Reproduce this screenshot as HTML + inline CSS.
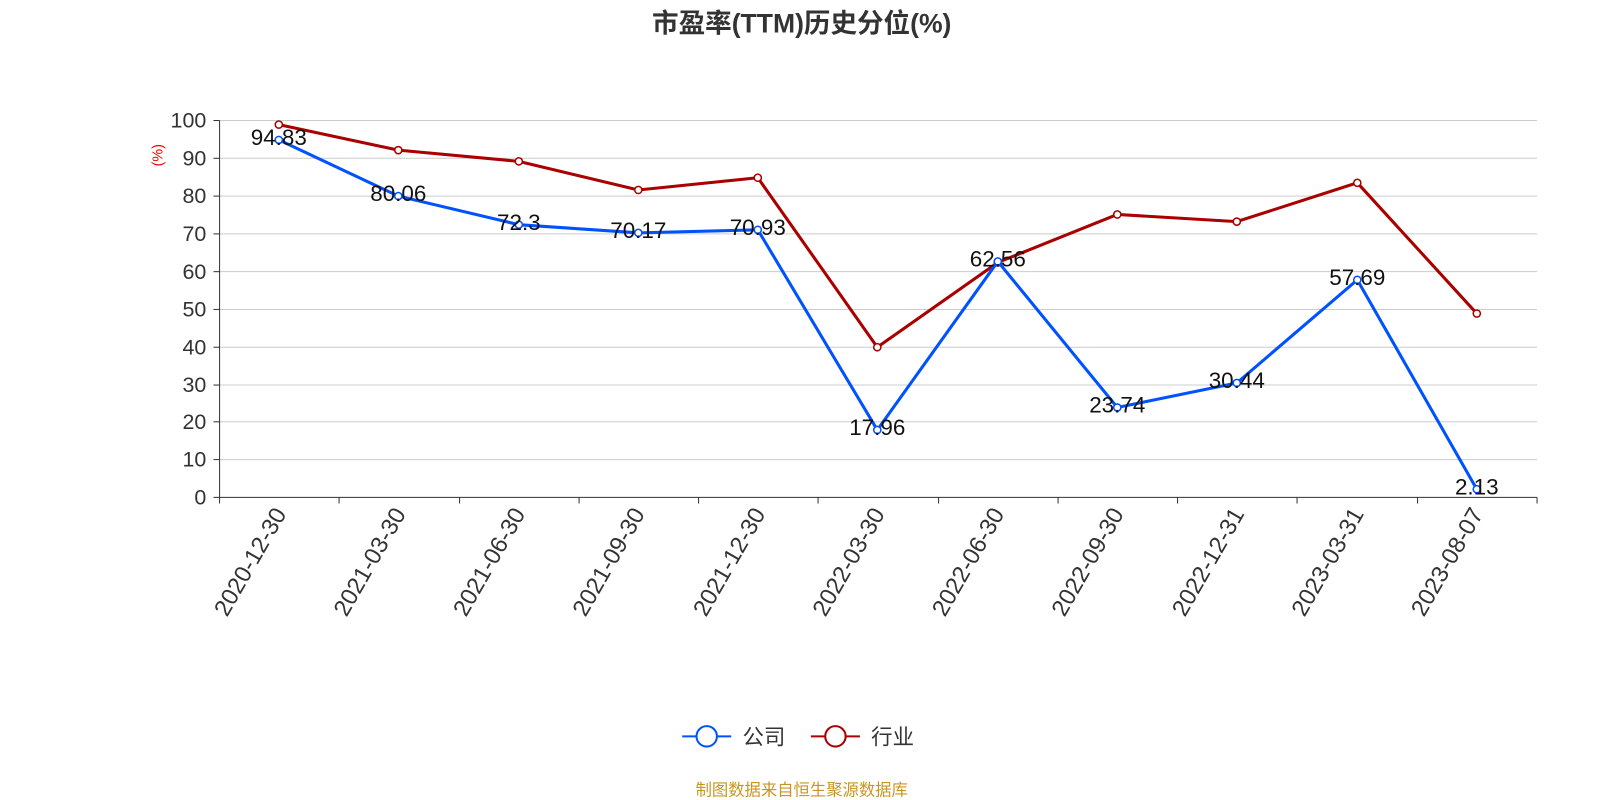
<!DOCTYPE html>
<html><head><meta charset="utf-8"><style>
html,body{margin:0;padding:0;background:#fff;overflow:hidden;width:1600px;height:800px;}
svg{display:block;}
text{font-family:"Liberation Sans","Noto Sans CJK SC",sans-serif;}
</style></head><body>
<svg width="1600" height="800" viewBox="0 0 1600 800" xmlns="http://www.w3.org/2000/svg">
<g transform="scale(1.0213)">
<text x="785" y="32" text-anchor="middle" font-size="26" font-weight="bold" fill="#333">市盈率(TTM)历史分位(%)</text>
<g stroke="#ccc" stroke-width="1">
<line x1="215" x2="1505" y1="118" y2="118"/><line x1="215" x2="1505" y1="155" y2="155"/>
<line x1="215" x2="1505" y1="192" y2="192"/><line x1="215" x2="1505" y1="229" y2="229"/>
<line x1="215" x2="1505" y1="266" y2="266"/><line x1="215" x2="1505" y1="303" y2="303"/>
<line x1="215" x2="1505" y1="340" y2="340"/><line x1="215" x2="1505" y1="377" y2="377"/>
<line x1="215" x2="1505" y1="413" y2="413"/><line x1="215" x2="1505" y1="450" y2="450"/>
</g>
<line x1="215" x2="215" y1="118" y2="487" stroke="#333"/>
<line x1="215" x2="1505" y1="487" y2="487" stroke="#333"/>
<g stroke="#333">
<line x1="209" x2="215" y1="118" y2="118"/><line x1="209" x2="215" y1="155" y2="155"/><line x1="209" x2="215" y1="192" y2="192"/><line x1="209" x2="215" y1="229" y2="229"/><line x1="209" x2="215" y1="266" y2="266"/><line x1="209" x2="215" y1="303" y2="303"/><line x1="209" x2="215" y1="340" y2="340"/><line x1="209" x2="215" y1="377" y2="377"/><line x1="209" x2="215" y1="413" y2="413"/><line x1="209" x2="215" y1="450" y2="450"/><line x1="209" x2="215" y1="487" y2="487"/>
<line x1="215" x2="215" y1="487" y2="493"/><line x1="332" x2="332" y1="487" y2="493"/><line x1="450" x2="450" y1="487" y2="493"/><line x1="567" x2="567" y1="487" y2="493"/><line x1="684" x2="684" y1="487" y2="493"/><line x1="801" x2="801" y1="487" y2="493"/><line x1="919" x2="919" y1="487" y2="493"/><line x1="1036" x2="1036" y1="487" y2="493"/><line x1="1153" x2="1153" y1="487" y2="493"/><line x1="1270" x2="1270" y1="487" y2="493"/><line x1="1388" x2="1388" y1="487" y2="493"/><line x1="1505" x2="1505" y1="487" y2="493"/>
</g>
<g font-size="21" fill="#333" text-anchor="end">
<text x="202" y="125">100</text><text x="202" y="162">90</text><text x="202" y="199">80</text><text x="202" y="236">70</text><text x="202" y="273">60</text><text x="202" y="310">50</text><text x="202" y="347">40</text><text x="202" y="384">30</text><text x="202" y="420">20</text><text x="202" y="457">10</text><text x="202" y="494">0</text>
</g>
<text transform="translate(159,152) rotate(-90)" font-size="14" fill="#e00" text-anchor="middle">(%)</text>
<g font-size="23" fill="#333" text-anchor="end">
<text transform="translate(281,503) rotate(-60)">2020-12-30</text>
<text transform="translate(398,503) rotate(-60)">2021-03-30</text>
<text transform="translate(515,503) rotate(-60)">2021-06-30</text>
<text transform="translate(632,503) rotate(-60)">2021-09-30</text>
<text transform="translate(750,503) rotate(-60)">2021-12-30</text>
<text transform="translate(867,503) rotate(-60)">2022-03-30</text>
<text transform="translate(984,503) rotate(-60)">2022-06-30</text>
<text transform="translate(1101,503) rotate(-60)">2022-09-30</text>
<text transform="translate(1219,503) rotate(-60)">2022-12-31</text>
<text transform="translate(1336,503) rotate(-60)">2023-03-31</text>
<text transform="translate(1453,503) rotate(-60)">2023-08-07</text>
</g>
<polyline fill="none" stroke="#aa0000" stroke-width="3" points="273,122 390,147 508,158 625,186 742,174 859,340 977,257 1094,210 1211,217 1329,179 1446,307"/>
<g fill="#fff" stroke="#aa0000" stroke-width="1.5">
<circle cx="273" cy="122" r="3.5"/><circle cx="390" cy="147" r="3.5"/><circle cx="508" cy="158" r="3.5"/><circle cx="625" cy="186" r="3.5"/><circle cx="742" cy="174" r="3.5"/><circle cx="859" cy="340" r="3.5"/><circle cx="977" cy="257" r="3.5"/><circle cx="1094" cy="210" r="3.5"/><circle cx="1211" cy="217" r="3.5"/><circle cx="1329" cy="179" r="3.5"/><circle cx="1446" cy="307" r="3.5"/>
</g>
<polyline fill="none" stroke="#0052ff" stroke-width="3" points="273,137 390,192 508,220 625,228 742,225 859,421 977,256 1094,399 1211,375 1329,274 1446,479"/>
<g fill="#fff" stroke="#0052ff" stroke-width="1.5">
<circle cx="273" cy="137" r="3.5"/><circle cx="390" cy="192" r="3.5"/><circle cx="508" cy="220" r="3.5"/><circle cx="625" cy="228" r="3.5"/><circle cx="742" cy="225" r="3.5"/><circle cx="859" cy="421" r="3.5"/><circle cx="977" cy="256" r="3.5"/><circle cx="1094" cy="399" r="3.5"/><circle cx="1211" cy="375" r="3.5"/><circle cx="1329" cy="274" r="3.5"/><circle cx="1446" cy="479" r="3.5"/>
</g>
<g font-size="22" fill="#111" text-anchor="middle">
<text x="273" y="142">94.83</text><text x="390" y="197">80.06</text><text x="508" y="225">72.3</text><text x="625" y="233">70.17</text><text x="742" y="230">70.93</text><text x="859" y="426">17.96</text><text x="977" y="261">62.56</text><text x="1094" y="404">23.74</text><text x="1211" y="380">30.44</text><text x="1329" y="279">57.69</text><text x="1446" y="484">2.13</text>
</g>
<line x1="668" x2="716" y1="721" y2="721" stroke="#0052ff" stroke-width="2"/>
<circle cx="692" cy="721" r="10" fill="#fff" stroke="#0052ff" stroke-width="2"/>
<text x="727" y="729" font-size="21" fill="#333">公司</text>
<line x1="794" x2="842" y1="721" y2="721" stroke="#aa0000" stroke-width="2"/>
<circle cx="818" cy="721" r="10" fill="#fff" stroke="#aa0000" stroke-width="2"/>
<text x="853" y="729" font-size="21" fill="#333">行业</text>
<text x="785" y="779" font-size="16" fill="#c8961e" text-anchor="middle">制图数据来自恒生聚源数据库</text>
</g>
</svg>
</body></html>
